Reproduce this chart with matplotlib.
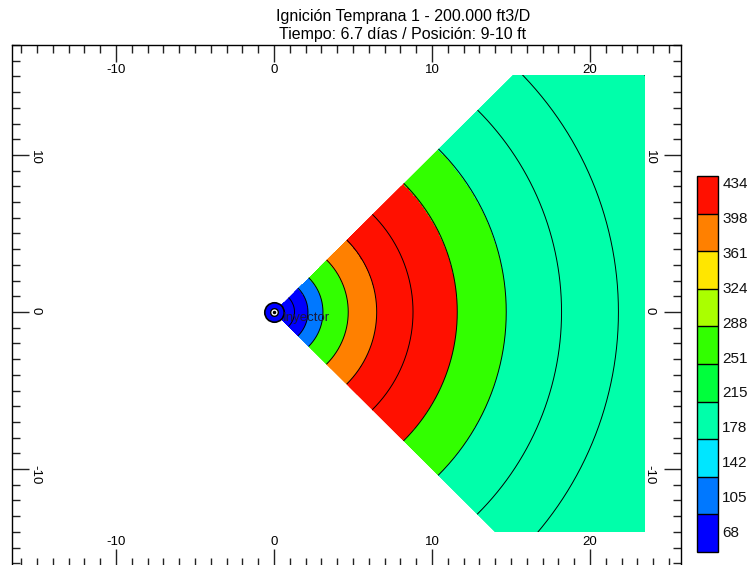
import numpy as np
import matplotlib
matplotlib.use("Agg")
import matplotlib.pyplot as plt
from matplotlib.colors import ListedColormap, BoundaryNorm
from matplotlib.patches import Polygon
from matplotlib.ticker import MultipleLocator, FixedLocator

plt.rcParams['font.family'] = ['Liberation Sans', 'DejaVu Sans']
plt.rcParams['axes.unicode_minus'] = False

# radial grid rings around the injector (ft) and the cell value in each ring
ring_edges = [0.0, 0.6, 1.3, 2.15, 3.1, 4.7, 6.5, 8.8, 11.6, 14.7, 18.2, 21.8, 27.9, 40.0]
ring_values = [75, 85, 95, 125, 270, 380, 425, 415, 265, 205, 200, 195, 190]

# colour scale
levels = [68, 105, 142, 178, 215, 251, 288, 324, 361, 398, 434]
band_colors = ['#0000FF', '#0078FF', '#00E6FF', '#00FFAA', '#00FF3C',
               '#32FF00', '#AAFF00', '#FFE600', '#FF8000', '#FF1000']

# sector and grid extent
sector_deg = (-45, 45)
grid_x = (0.0, 23.5)
grid_y = (-14.0, 15.1)

title_lines = ['Ignición Temprana 1 - 200.000 ft3/D',
               'Tiempo: 6.7 días / Posición: 9-10 ft']

fig = plt.figure(figsize=(7.5, 5.65), dpi=100)
ax = fig.add_axes([12 / 750, -0.002, (681 - 12) / 750, 0.9224])
ax.set_xlim(-16.58, 25.76)
ax.set_ylim(-16.18, 17.0)

cmap = ListedColormap(band_colors)
norm = BoundaryNorm(levels, cmap.N)

theta = np.radians(np.linspace(sector_deg[0], sector_deg[1], 241))
R, T = np.meshgrid(np.array(ring_edges), theta, indexing='ij')
X = R * np.cos(T)
Y = R * np.sin(T)
C = np.repeat(np.array(ring_values, dtype=float)[:, None], len(theta) - 1, axis=1)

# sector cut by the grid box
t_hi, t_lo = np.tan(np.radians(sector_deg[1])), np.tan(np.radians(sector_deg[0]))
outline = [(0, 0), (grid_y[1] / t_hi, grid_y[1]), (grid_x[1], grid_y[1]),
           (grid_x[1], grid_y[0]), (grid_y[0] / t_lo, grid_y[0])]
clip = Polygon(outline, closed=True, transform=ax.transData,
               facecolor='none', edgecolor='none')

mesh = ax.pcolormesh(X, Y, C, cmap=cmap, norm=norm, shading='flat',
                     edgecolors='face', linewidth=0.4)
mesh.set_clip_path(clip)

# ring boundaries
for r in ring_edges[1:-1]:
    line, = ax.plot(r * np.cos(theta), r * np.sin(theta), color='black', lw=0.7)
    line.set_clip_path(clip)

# injector well
ax.plot(0, 0, 'o', ms=14, mfc='#0000FF', mec='black', mew=1.2, zorder=5)
ax.plot(0, 0, 'o', ms=5.5, mfc='white', mec='black', mew=1.0, zorder=6)
ax.plot(0, 0, 'o', ms=1.5, color='black', zorder=7)
ax.text(0.55, -0.38, 'Inyector', fontsize=9.5, color='#1a1a3a', va='center', ha='left',
        zorder=8)

# frame ticks and labels drawn inside
ax.xaxis.set_major_locator(FixedLocator([-10, 0, 10, 20]))
ax.xaxis.set_minor_locator(MultipleLocator(1))
ax.yaxis.set_major_locator(FixedLocator([-10, 0, 10]))
ax.yaxis.set_minor_locator(MultipleLocator(1))
ax.tick_params(which='both', direction='in', top=True, right=True, color='#222222', width=1.0)
ax.tick_params(which='major', length=12.2)
ax.tick_params(which='minor', length=5.8)
ax.tick_params(axis='x', labeltop=True, labelbottom=True, pad=-22, labelsize=9.5)
ax.tick_params(axis='y', labelleft=True, labelright=False, pad=-21, labelsize=9.5,
               labelrotation=-90)
for s in ax.spines.values():
    s.set_linewidth(1.0)

# right-hand labels sit a little further in
sec = ax.secondary_yaxis('right')
sec.yaxis.set_major_locator(FixedLocator([-10, 0, 10]))
sec.yaxis.set_minor_locator(FixedLocator([]))
sec.tick_params(which='both', direction='in', length=0, pad=-27, labelsize=9.5,
                labelrotation=-90)
sec.spines['right'].set_visible(False)

fig.text(403 / 750, 1 - 17 / 565, title_lines[0], ha='center', va='center', fontsize=11.5)
fig.text(403 / 750, 1 - 34 / 565, title_lines[1], ha='center', va='center', fontsize=11.5)

# colour bar
cax = fig.add_axes([697 / 750, 1 - 552 / 565, 21 / 750, 376 / 565])
cb = fig.colorbar(matplotlib.cm.ScalarMappable(norm=norm, cmap=cmap), cax=cax,
                  ticks=levels, drawedges=True)
cb.outline.set_linewidth(1.0)
cb.dividers.set_linewidth(1.0)
cax.tick_params(length=0, labelright=False)
for frac, lev in zip(np.linspace(0.979, 0.05, len(levels)), levels[::-1]):
    cax.text(1.2, frac, str(lev), transform=cax.transAxes, ha='left', va='center',
             fontsize=11, color='#111111')

fig.savefig('out.png', dpi=100)
